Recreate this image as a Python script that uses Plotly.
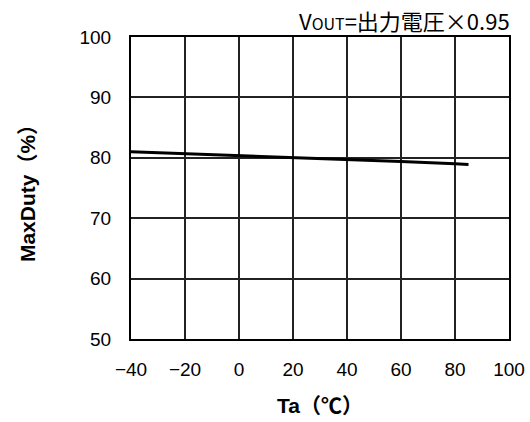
import plotly.graph_objects as go

# Maximum duty cycle vs. ambient temperature
ta_c = [-40, -20, 0, 20, 40, 60, 80, 85]
max_duty_pct = [81.0, 80.7, 80.4, 80.1, 79.8, 79.4, 79.0, 78.9]

x_ticks = [-40, -20, 0, 20, 40, 60, 80, 100]
y_ticks = [50, 60, 70, 80, 90, 100]

FONT = "Liberation Sans, Arial, Noto Sans CJK JP, sans-serif"
CJK_FONT = "Noto Sans CJK JP, Liberation Sans, sans-serif"

fig = go.Figure()
fig.add_trace(go.Scatter(
    x=ta_c, y=max_duty_pct, mode="lines",
    line=dict(color="black", width=3),
    showlegend=False, hoverinfo="skip",
))

axis_common = dict(
    showgrid=True, gridcolor="#222222", gridwidth=1.5,
    showline=True, linecolor="black", linewidth=2, mirror=True,
    zeroline=False, ticks="", tickfont=dict(size=19, color="black", family=FONT),
)

fig.update_xaxes(
    range=[-40, 100], tickvals=x_ticks, ticklabelstandoff=12,
    title=dict(text="<b>Ta（℃）</b>", font=dict(size=21, color="black", family=FONT), standoff=20),
    **axis_common,
)
fig.update_yaxes(
    range=[50, 100], tickvals=y_ticks, ticklabelstandoff=14,
    title=dict(text="<b>MaxDuty（%）</b>", font=dict(size=21, color="black", family=FONT), standoff=38),
    **axis_common,
)

fig.add_annotation(
    text="V<span style='font-size:16px'>OUT</span>=出力電圧×0.95",
    xref="paper", yref="paper", x=1.0, y=1.0, xanchor="right", yanchor="bottom",
    xshift=3, yshift=-1, showarrow=False, font=dict(size=22, color="black", family=CJK_FONT),
)

fig.update_layout(
    width=530, height=422,
    margin=dict(l=131, r=21, t=37, b=83, autoexpand=False),
    paper_bgcolor="white", plot_bgcolor="white",
    font=dict(family=FONT, color="black"),
)

fig.write_html("out.html")
